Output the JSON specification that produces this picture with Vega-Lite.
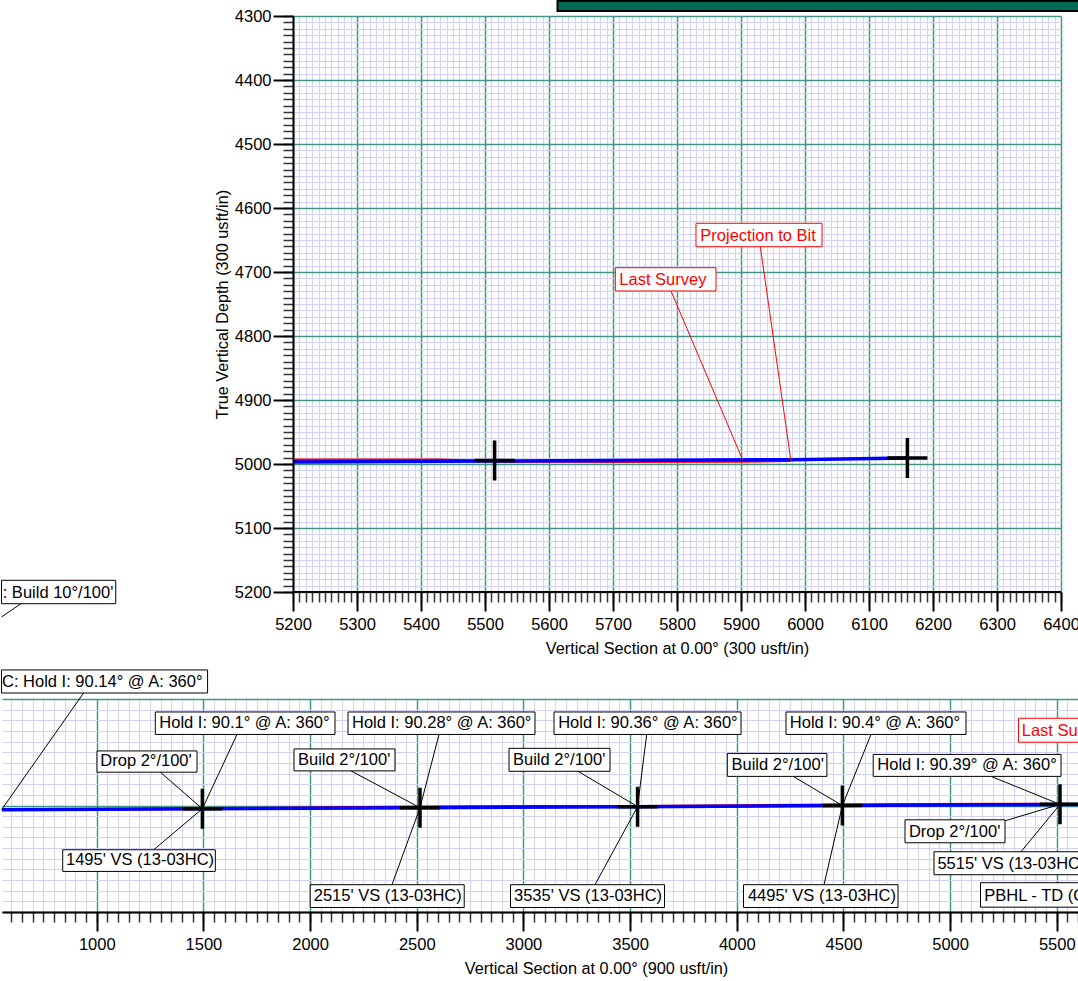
{
  "$schema": "https://vega.github.io/schema/vega-lite/v6.json",
  "padding": 0,
  "background": "white",
  "spacing": 12,
  "config": {
    "view": {"stroke": null},
    "font": "Liberation Sans",
    "axis": {
      "labelFont": "Liberation Sans", "labelFontSize": 16.5, "labelColor": "#000",
      "titleFont": "Liberation Sans", "titleFontSize": 16.3, "titleFontWeight": "normal", "titleColor": "#000",
      "labelFlush": false, "labelOverlap": false
    }
  },
  "datasets": {
    "path": [
      {"vs": 400, "tvd": 5020.7, "series": "plan"},
      {"vs": 1495, "tvd": 5015.3, "series": "plan"},
      {"vs": 2515, "tvd": 5010.3, "series": "plan"},
      {"vs": 3535, "tvd": 5005.3, "series": "plan"},
      {"vs": 4495, "tvd": 5000.5, "series": "plan"},
      {"vs": 5200, "tvd": 4997, "series": "plan"},
      {"vs": 5515, "tvd": 4995.5, "series": "plan"},
      {"vs": 5978, "tvd": 4993.3, "series": "plan"},
      {"vs": 6160, "tvd": 4990.8, "series": "plan"},
      {"vs": 400, "tvd": 5020.7, "series": "actual"},
      {"vs": 1495, "tvd": 5015, "series": "actual"},
      {"vs": 2000, "tvd": 5011, "series": "actual"},
      {"vs": 2515, "tvd": 5006, "series": "actual"},
      {"vs": 3000, "tvd": 5003, "series": "actual"},
      {"vs": 3535, "tvd": 5003, "series": "actual"},
      {"vs": 4000, "tvd": 5000, "series": "actual"},
      {"vs": 4495, "tvd": 4996.5, "series": "actual"},
      {"vs": 4900, "tvd": 4994, "series": "actual"},
      {"vs": 5200, "tvd": 4993.3, "series": "actual"},
      {"vs": 5430, "tvd": 4993.3, "series": "actual"},
      {"vs": 5530, "tvd": 4996, "series": "actual"},
      {"vs": 5700, "tvd": 4996.5, "series": "actual"},
      {"vs": 5905, "tvd": 4996.2, "series": "actual"},
      {"vs": 5978, "tvd": 4995, "series": "actual"}
    ],
    "targets": [
      {"vs": 1495, "tvd": 5015.3},
      {"vs": 2515, "tvd": 5010.3},
      {"vs": 3535, "tvd": 5005.3},
      {"vs": 4495, "tvd": 5000.5},
      {"vs": 5515, "tvd": 4994.5},
      {"vs": 6160, "tvd": 4990.8}
    ],
    "topLabels": [
      {"label": "Projection to Bit", "kind": "survey", "bx1": 5829.7, "bx2": 6026.6, "by1": 4623.9, "by2": 4660.5, "tx": 5836.4, "lx1": 5930.2, "ly1": 4660.5, "lx2": 5978, "ly2": 4995},
      {"label": "Last Survey", "kind": "survey", "bx1": 5703.6, "bx2": 5860.9, "by1": 4693.3, "by2": 4729.7, "tx": 5709.8, "lx1": 5790.6, "ly1": 4729.7, "lx2": 5903, "ly2": 4994.5},
      {"label": ": Build 10°/100'", "kind": "plan", "bx1": 4744.5, "bx2": 4923, "by1": 5181.7, "by2": 5218.3, "tx": 4746.4, "lx1": 4775, "ly1": 5218.3, "lx2": 4744.5, "ly2": 5239}
    ],
    "legendBox": [
      {"bx1": 5613.3, "bx2": 6450, "by1": 4276.6, "by2": 4292.2}
    ],
    "bottomLabels": [
      {"label": "C: Hold I: 90.14° @ A: 360°", "kind": "plan", "bx1": 553.3, "bx2": 1519.4, "by1": 4363.6, "by2": 4471.9, "tx": 555.7, "lx1": 938.2, "ly1": 4471.9, "lx2": 553.3, "ly2": 5020.3},
      {"label": "Hold I: 90.1° @ A: 360°", "kind": "plan", "bx1": 1274.3, "bx2": 2116.6, "by1": 4560.9, "by2": 4666.4, "tx": 1293, "lx1": 1657.3, "ly1": 4666.4, "lx2": 1495, "ly2": 5015.3},
      {"label": "Drop 2°/100'", "kind": "plan", "bx1": 1001, "bx2": 1469.8, "by1": 4743.8, "by2": 4843.6, "tx": 1016.5, "lx1": 1297.7, "ly1": 4843.6, "lx2": 1495, "ly2": 5015.3},
      {"label": "1495' VS (13-03HC)", "kind": "plan", "bx1": 840.2, "bx2": 1555.6, "by1": 5207.8, "by2": 5309.5, "tx": 855.7, "lx1": 1266.8, "ly1": 5207.8, "lx2": 1495, "ly2": 5015.3},
      {"label": "Hold I: 90.28° @ A: 360°", "kind": "plan", "bx1": 2177.6, "bx2": 3054.1, "by1": 4560.9, "by2": 4666.4, "tx": 2196.3, "lx1": 2604.1, "ly1": 4666.4, "lx2": 2515, "ly2": 5010.3},
      {"label": "Build 2°/100'", "kind": "plan", "bx1": 1924.4, "bx2": 2397.9, "by1": 4734.4, "by2": 4837.5, "tx": 1943.2, "lx1": 2191.6, "ly1": 4837.5, "lx2": 2515, "ly2": 5010.3},
      {"label": "2515' VS (13-03HC)", "kind": "plan", "bx1": 2000.4, "bx2": 2722.3, "by1": 5371.9, "by2": 5478.8, "tx": 2016.8, "lx1": 2383.8, "ly1": 5371.9, "lx2": 2515, "ly2": 5010.3},
      {"label": "Hold I: 90.36° @ A: 360°", "kind": "plan", "bx1": 3143.2, "bx2": 4019.8, "by1": 4560.9, "by2": 4666.4, "tx": 3162.9, "lx1": 3577.7, "ly1": 4666.4, "lx2": 3535, "ly2": 5005.3},
      {"label": "Build 2°/100'", "kind": "plan", "bx1": 2932.3, "bx2": 3405.7, "by1": 4731.6, "by2": 4839.4, "tx": 2951, "lx1": 3255.7, "ly1": 4839.4, "lx2": 3535, "ly2": 5005.3},
      {"label": "3535' VS (13-03HC)", "kind": "plan", "bx1": 2939.3, "bx2": 3661.2, "by1": 5371.9, "by2": 5478.8, "tx": 2955.7, "lx1": 3335.4, "ly1": 5371.9, "lx2": 3535, "ly2": 5005.3},
      {"label": "Hold I: 90.4° @ A: 360°", "kind": "plan", "bx1": 4230.7, "bx2": 5074.4, "by1": 4560.9, "by2": 4666.4, "tx": 4248.5, "lx1": 4629.1, "ly1": 4666.4, "lx2": 4495, "ly2": 5000.5},
      {"label": "Build 2°/100'", "kind": "plan", "bx1": 3955.5, "bx2": 4422.4, "by1": 4755.5, "by2": 4863.3, "tx": 3975.2, "lx1": 4264.4, "ly1": 4863.3, "lx2": 4495, "ly2": 5000.5},
      {"label": "4495' VS (13-03HC)", "kind": "plan", "bx1": 4031.5, "bx2": 4755.7, "by1": 5371.9, "by2": 5478.8, "tx": 4052, "lx1": 4408.8, "ly1": 5371.9, "lx2": 4495, "ly2": 5000.5},
      {"label": "Hold I: 90.39° @ A: 360°", "kind": "plan", "bx1": 4639.4, "bx2": 5519.8, "by1": 4760.2, "by2": 4863.3, "tx": 4658.7, "lx1": 5191.6, "ly1": 4863.3, "lx2": 5515, "ly2": 4994.5},
      {"label": "Drop 2°/100'", "kind": "plan", "bx1": 4788.5, "bx2": 5257.3, "by1": 5067.2, "by2": 5175, "tx": 4806.8, "lx1": 5257.3, "ly1": 5071.9, "lx2": 5515, "ly2": 4994.5},
      {"label": "5515' VS (13-03HC)", "kind": "plan", "bx1": 4924.4, "bx2": 5655.7, "by1": 5217.2, "by2": 5325, "tx": 4940.4, "lx1": 5332.3, "ly1": 5217.2, "lx2": 5515, "ly2": 4994.5},
      {"label": "PBHL - TD (C", "kind": "plan", "bx1": 5142.4, "bx2": 5665.1, "by1": 5362.5, "by2": 5477.3, "tx": 5160.2},
      {"label": "Last Survey", "kind": "survey", "bx1": 5320.5, "bx2": 5792.5, "by1": 4590.5, "by2": 4703, "tx": 5335.6}
    ]
  },
  "vconcat": [
    {
      "width": 1059,
      "height": 576,
      "layer": [
        {
          "data": {"name": "path"},
          "transform": [{"filter": "datum.series === 'actual' && datum.vs >= 5200"}],
          "mark": {"type": "line", "color": "#ff0000", "strokeWidth": 2.5, "clip": true},
          "encoding": {
            "x": {"field": "vs", "type": "quantitative", "scale": {"domain": [4745.3, 6400], "nice": false, "zero": false},
              "axis": {"orient": "bottom", "zindex": 0, "values": [5200,5210,5220,5230,5240,5250,5260,5270,5280,5290,5300,5310,5320,5330,5340,5350,5360,5370,5380,5390,5400,5410,5420,5430,5440,5450,5460,5470,5480,5490,5500,5510,5520,5530,5540,5550,5560,5570,5580,5590,5600,5610,5620,5630,5640,5650,5660,5670,5680,5690,5700,5710,5720,5730,5740,5750,5760,5770,5780,5790,5800,5810,5820,5830,5840,5850,5860,5870,5880,5890,5900,5910,5920,5930,5940,5950,5960,5970,5980,5990,6000,6010,6020,6030,6040,6050,6060,6070,6080,6090,6100,6110,6120,6130,6140,6150,6160,6170,6180,6190,6200,6210,6220,6230,6240,6250,6260,6270,6280,6290,6300,6310,6320,6330,6340,6350,6360,6370,6380,6390,6400], "labels": false, "title": null, "domain": false, "ticks": false, "grid": true, "gridColor": "#d2d2f5", "gridWidth": 1}},
            "y": {"field": "tvd", "type": "quantitative", "scale": {"domain": [4300, 5200], "reverse": true, "nice": false, "zero": false},
              "axis": {"orient": "left", "zindex": 0, "offset": -291, "tickCount": 90, "labels": false, "title": null, "domain": false, "ticks": false, "grid": true, "gridColor": "#d2d2f5", "gridWidth": 1}}
          }
        },
        {
          "data": {"name": "path"},
          "transform": [{"filter": "datum.series === 'plan' && datum.vs >= 5200"}],
          "mark": {"type": "line", "color": "#0000ff", "strokeWidth": 3.5, "clip": true},
          "encoding": {
            "x": {"field": "vs", "type": "quantitative", "scale": {"domain": [4745.3, 6400], "nice": false, "zero": false},
              "axis": {"orient": "bottom", "zindex": 0, "values": [5200, 5300, 5400, 5500, 5600, 5700, 5800, 5900, 6000, 6100, 6200, 6300, 6400], "labels": false, "title": null, "domain": false, "ticks": false, "grid": true, "gridColor": "#3f9886", "gridWidth": 1.5}},
            "y": {"field": "tvd", "type": "quantitative", "scale": {"domain": [4300, 5200], "reverse": true, "nice": false, "zero": false},
              "axis": {"orient": "left", "zindex": 0, "offset": -291, "values": [4300, 4400, 4500, 4600, 4700, 4800, 4900, 5000, 5100, 5200], "labels": false, "title": null, "domain": false, "ticks": false, "grid": true, "gridColor": "#3f9886", "gridWidth": 1.5}}
          }
        },
        {
          "data": {"values": [{}]},
          "mark": {"type": "rect", "fill": "#ffffff", "clip": false},
          "encoding": {
            "x": {"datum": 4745.3, "type": "quantitative", "axis": null},
            "x2": {"datum": 5199},
            "y": {"datum": 4292, "type": "quantitative", "axis": null},
            "y2": {"datum": 5208}
          }
        },
        {
          "data": {"values": [{}]},
          "mark": {"type": "rule", "color": "#000", "strokeWidth": 2},
          "encoding": {
            "x": {"datum": 5200, "type": "quantitative", "axis": null},
            "x2": {"datum": 6400},
            "y": {"datum": 5200, "type": "quantitative", "axis": null}
          }
        },
        {
          "data": {"name": "topLabels"},
          "transform": [{"filter": "isValid(datum.lx1)"}],
          "mark": {"type": "rule", "strokeWidth": 1},
          "encoding": {
            "x": {"field": "lx1", "type": "quantitative",
              "axis": {"orient": "bottom", "zindex": 1, "values": [5200,5210,5220,5230,5240,5250,5260,5270,5280,5290,5300,5310,5320,5330,5340,5350,5360,5370,5380,5390,5400,5410,5420,5430,5440,5450,5460,5470,5480,5490,5500,5510,5520,5530,5540,5550,5560,5570,5580,5590,5600,5610,5620,5630,5640,5650,5660,5670,5680,5690,5700,5710,5720,5730,5740,5750,5760,5770,5780,5790,5800,5810,5820,5830,5840,5850,5860,5870,5880,5890,5900,5910,5920,5930,5940,5950,5960,5970,5980,5990,6000,6010,6020,6030,6040,6050,6060,6070,6080,6090,6100,6110,6120,6130,6140,6150,6160,6170,6180,6190,6200,6210,6220,6230,6240,6250,6260,6270,6280,6290,6300,6310,6320,6330,6340,6350,6360,6370,6380,6390,6400], "labels": false, "title": null, "domain": false, "ticks": true, "tickSize": 10, "tickWidth": 1.5, "tickColor": "#333", "grid": false}},
            "y": {"field": "ly1", "type": "quantitative",
              "axis": {"orient": "left", "zindex": 1, "offset": -291, "tickCount": 90, "labels": false, "title": null, "domain": false, "ticks": true, "tickSize": 10, "tickWidth": 1.5, "tickColor": "#333", "grid": false}},
            "x2": {"field": "lx2"},
            "y2": {"field": "ly2"},
            "color": {"field": "kind", "type": "nominal", "scale": {"domain": ["plan", "survey"], "range": ["#000000", "#ff0000"]}, "legend": null}
          }
        },
        {
          "data": {"name": "targets"},
          "mark": {"type": "point", "shape": "M0,-1V1M-1,0H1", "size": 1600, "filled": false, "stroke": "#000", "strokeWidth": 3.5, "opacity": 1, "clip": true},
          "encoding": {
            "x": {"field": "vs", "type": "quantitative",
              "axis": {"orient": "bottom", "zindex": 1, "values": [5200, 5300, 5400, 5500, 5600, 5700, 5800, 5900, 6000, 6100, 6200, 6300, 6400], "format": "d", "title": "Vertical Section at 0.00° (300 usft/in)", "titleX": 675, "domain": false, "tickSize": 19, "tickWidth": 2, "tickColor": "#000", "labelPadding": 5.5, "titlePadding": 7, "grid": false}},
            "y": {"field": "tvd", "type": "quantitative",
              "axis": {"orient": "left", "zindex": 1, "offset": -291, "values": [4300, 4400, 4500, 4600, 4700, 4800, 4900, 5000, 5100, 5200], "format": "d", "title": "True Vertical Depth (300 usft/in)", "domain": true, "domainColor": "#000", "domainWidth": 2, "tickSize": 20, "tickWidth": 2, "tickColor": "#000", "labelPadding": 2, "titlePadding": 4, "grid": false}}
          }
        },
        {
          "data": {"name": "topLabels"},
          "mark": {"type": "rect", "fill": "#ffffff", "strokeWidth": 1},
          "encoding": {
            "x": {"field": "bx1", "type": "quantitative", "axis": null},
            "x2": {"field": "bx2"},
            "y": {"field": "by1", "type": "quantitative", "axis": null},
            "y2": {"field": "by2"},
            "stroke": {"field": "kind", "type": "nominal", "scale": {"domain": ["plan", "survey"], "range": ["#000000", "#ff0000"]}, "legend": null}
          }
        },
        {
          "data": {"name": "topLabels"},
          "mark": {"type": "text", "align": "left", "baseline": "alphabetic", "dy": -6, "fontSize": 16.5, "font": "Liberation Sans"},
          "encoding": {
            "x": {"field": "tx", "type": "quantitative", "axis": null},
            "y": {"field": "by2", "type": "quantitative", "axis": null},
            "text": {"field": "label"},
            "color": {"field": "kind", "type": "nominal", "scale": {"domain": ["plan", "survey"], "range": ["#000000", "#ff0000"]}, "legend": null}
          }
        },
        {
          "data": {"name": "legendBox"},
          "mark": {"type": "rect", "fill": "#006a55", "stroke": "#000", "strokeWidth": 2},
          "encoding": {
            "x": {"field": "bx1", "type": "quantitative", "axis": null},
            "x2": {"field": "bx2"},
            "y": {"field": "by1", "type": "quantitative", "axis": null},
            "y2": {"field": "by2"}
          }
        }
      ],
      "resolve": {"axis": {"x": "independent", "y": "independent"}}
    },
    {
      "width": 1078,
      "height": 213,
      "layer": [
        {
          "data": {"name": "path"},
          "transform": [{"filter": "datum.series === 'actual'"}],
          "mark": {"type": "line", "color": "#ff0000", "strokeWidth": 2.5, "clip": true},
          "encoding": {
            "x": {"field": "vs", "type": "quantitative", "scale": {"domain": [555.7, 5608.8], "nice": false, "zero": false},
              "axis": {"orient": "bottom", "tickCount": 100, "labels": false, "title": null, "domain": false, "ticks": true, "tickSize": 10, "tickWidth": 1.5, "tickColor": "#333", "grid": true, "gridColor": "#d2d2f5", "gridWidth": 1}},
            "y": {"field": "tvd", "type": "quantitative", "scale": {"domain": [4500, 5500], "reverse": true, "nice": false, "zero": false},
              "axis": {"orient": "left", "tickCount": 20, "labels": false, "title": null, "domain": false, "ticks": false, "grid": true, "gridColor": "#d2d2f5", "gridWidth": 1}}
          }
        },
        {
          "data": {"name": "path"},
          "transform": [{"filter": "datum.series === 'plan'"}],
          "mark": {"type": "line", "color": "#0000ff", "strokeWidth": 3.5, "clip": true},
          "encoding": {
            "x": {"field": "vs", "type": "quantitative", "scale": {"domain": [555.7, 5608.8], "nice": false, "zero": false},
              "axis": {"orient": "bottom", "values": [1000, 1500, 2000, 2500, 3000, 3500, 4000, 4500, 5000, 5500], "format": "d", "title": "Vertical Section at 0.00° (900 usft/in)", "titleX": 594, "domain": true, "domainColor": "#000", "domainWidth": 2, "tickSize": 19, "tickWidth": 2, "tickColor": "#000", "labelPadding": 5, "titlePadding": 8, "grid": true, "gridColor": "#3f9886", "gridWidth": 1.5}},
            "y": {"field": "tvd", "type": "quantitative", "scale": {"domain": [4500, 5500], "reverse": true, "nice": false, "zero": false},
              "axis": {"orient": "left", "values": [4500, 5000, 5500], "labels": false, "title": null, "domain": false, "ticks": false, "grid": true, "gridColor": "#3f9886", "gridWidth": 1.5}}
          }
        },
        {
          "data": {"name": "bottomLabels"},
          "transform": [{"filter": "isValid(datum.lx1)"}],
          "mark": {"type": "rule", "strokeWidth": 1},
          "encoding": {
            "x": {"field": "lx1", "type": "quantitative", "axis": null},
            "y": {"field": "ly1", "type": "quantitative", "axis": null},
            "x2": {"field": "lx2"},
            "y2": {"field": "ly2"},
            "color": {"field": "kind", "type": "nominal", "scale": {"domain": ["plan", "survey"], "range": ["#000000", "#ff0000"]}, "legend": null}
          }
        },
        {
          "data": {"name": "targets"},
          "mark": {"type": "point", "shape": "M0,-1V1M-1,0H1", "size": 1600, "filled": false, "stroke": "#000", "strokeWidth": 3.5, "opacity": 1, "clip": true},
          "encoding": {
            "x": {"field": "vs", "type": "quantitative", "axis": null},
            "y": {"field": "tvd", "type": "quantitative", "axis": null}
          }
        },
        {
          "data": {"name": "bottomLabels"},
          "mark": {"type": "rect", "fill": "#ffffff", "strokeWidth": 1},
          "encoding": {
            "x": {"field": "bx1", "type": "quantitative", "axis": null},
            "x2": {"field": "bx2"},
            "y": {"field": "by1", "type": "quantitative", "axis": null},
            "y2": {"field": "by2"},
            "stroke": {"field": "kind", "type": "nominal", "scale": {"domain": ["plan", "survey"], "range": ["#000000", "#ff0000"]}, "legend": null}
          }
        },
        {
          "data": {"name": "bottomLabels"},
          "mark": {"type": "text", "align": "left", "baseline": "alphabetic", "dy": -6, "fontSize": 16.5, "font": "Liberation Sans"},
          "encoding": {
            "x": {"field": "tx", "type": "quantitative", "axis": null},
            "y": {"field": "by2", "type": "quantitative", "axis": null},
            "text": {"field": "label"},
            "color": {"field": "kind", "type": "nominal", "scale": {"domain": ["plan", "survey"], "range": ["#000000", "#ff0000"]}, "legend": null}
          }
        }
      ],
      "resolve": {"axis": {"x": "independent", "y": "independent"}}
    }
  ]
}
